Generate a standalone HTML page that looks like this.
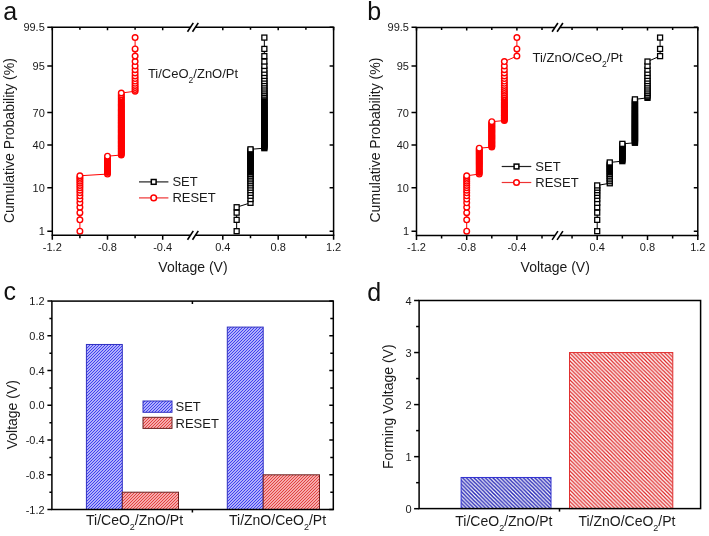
<!DOCTYPE html><html><head><meta charset="utf-8"><style>html,body{margin:0;padding:0;background:#fff;overflow:hidden}svg{display:block;will-change:transform;-webkit-font-smoothing:antialiased}</style></head><body>
<svg width="709" height="536" viewBox="0 0 709 536">
<rect width="709" height="536" fill="#fff"/>
<defs>
<pattern id="hcB" patternUnits="userSpaceOnUse" width="3" height="3"><rect width="3" height="3" fill="#dedeff"/><path d="M-0.75,0.75 L0.75,-0.75 M0,3 L3,0 M2.25,3.75 L3.75,2.25" stroke="#3535ee" stroke-width="1.05"/></pattern>
<pattern id="hcR" patternUnits="userSpaceOnUse" width="3" height="3"><rect width="3" height="3" fill="#ffd8d8"/><path d="M-0.75,0.75 L0.75,-0.75 M0,3 L3,0 M2.25,3.75 L3.75,2.25" stroke="#e03a3a" stroke-width="1.1"/></pattern>
<pattern id="hdB" patternUnits="userSpaceOnUse" width="3.8" height="3.8"><rect width="3.8" height="3.8" fill="#fff"/><path d="M-1,2.8 L1,4.8 M0,0 L3.8,3.8 M2.8,-1 L4.8,1" stroke="#2424b4" stroke-width="1.5"/></pattern>
<pattern id="hdR" patternUnits="userSpaceOnUse" width="3.8" height="3.8"><rect width="3.8" height="3.8" fill="#fff"/><path d="M-1,2.8 L1,4.8 M0,0 L3.8,3.8 M2.8,-1 L4.8,1" stroke="#dd2424" stroke-width="1.2"/></pattern>
</defs>
<path d="M79.9,231.18 L79.9,219.84 L79.9,212.64 L79.9,207.23 L79.9,202.82 L79.9,199.07 L79.9,195.79 L79.9,192.85 L79.9,190.17 L79.9,187.71 L79.9,185.42 L79.9,183.27 L79.9,181.25 L79.9,179.33 L79.9,177.51 L79.9,175.76 L107.5,174.08 L107.5,172.47 L107.5,170.91 L107.5,169.4 L107.5,167.94 L107.5,166.51 L107.5,165.12 L107.5,163.77 L107.5,162.45 L107.5,161.15 L107.5,159.88 L107.5,158.63 L107.5,157.41 L107.5,156.2 L121.3,155.01 L121.3,153.84 L121.3,152.68 L121.3,151.54 L121.3,150.41 L121.3,149.3 L121.3,148.19 L121.3,147.09 L121.3,146 L121.3,144.92 L121.3,143.85 L121.3,142.78 L121.3,141.72 L121.3,140.66 L121.3,139.61 L121.3,138.56 L121.3,137.51 L121.3,136.47 L121.3,135.42 L121.3,134.38 L121.3,133.34 L121.3,132.29 L121.3,131.25 L121.3,130.2 L121.3,129.15 L121.3,128.1 L121.3,127.04 L121.3,125.98 L121.3,124.91 L121.3,123.84 L121.3,122.76 L121.3,121.67 L121.3,120.57 L121.3,119.46 L121.3,118.35 L121.3,117.22 L121.3,116.08 L121.3,114.92 L121.3,113.75 L121.3,112.56 L121.3,111.35 L121.3,110.13 L121.3,108.88 L121.3,107.61 L121.3,106.31 L121.3,104.99 L121.3,103.64 L121.3,102.25 L121.3,100.82 L121.3,99.36 L121.3,97.85 L121.3,96.29 L121.3,94.68 L121.3,93 L135.1,91.25 L135.1,89.43 L135.1,87.51 L135.1,85.49 L135.1,83.34 L135.1,81.05 L135.1,78.59 L135.1,75.91 L135.1,72.97 L135.1,69.69 L135.1,65.94 L135.1,61.53 L135.1,56.12 L135.1,48.92 L135.1,37.58" fill="none" stroke="#ff0000" stroke-width="1"/>
<circle cx="79.9" cy="231.18" r="2.8" fill="#fff" stroke="#ff0000" stroke-width="1.4"/>
<circle cx="79.9" cy="219.84" r="2.8" fill="#fff" stroke="#ff0000" stroke-width="1.4"/>
<circle cx="79.9" cy="212.64" r="2.8" fill="#fff" stroke="#ff0000" stroke-width="1.4"/>
<circle cx="79.9" cy="207.23" r="2.8" fill="#fff" stroke="#ff0000" stroke-width="1.4"/>
<circle cx="79.9" cy="202.82" r="2.8" fill="#fff" stroke="#ff0000" stroke-width="1.4"/>
<circle cx="79.9" cy="199.07" r="2.8" fill="#fff" stroke="#ff0000" stroke-width="1.4"/>
<circle cx="79.9" cy="195.79" r="2.8" fill="#fff" stroke="#ff0000" stroke-width="1.4"/>
<circle cx="79.9" cy="192.85" r="2.8" fill="#fff" stroke="#ff0000" stroke-width="1.4"/>
<circle cx="79.9" cy="190.17" r="2.8" fill="#fff" stroke="#ff0000" stroke-width="1.4"/>
<circle cx="79.9" cy="187.71" r="2.8" fill="#fff" stroke="#ff0000" stroke-width="1.4"/>
<circle cx="79.9" cy="185.42" r="2.8" fill="#fff" stroke="#ff0000" stroke-width="1.4"/>
<circle cx="79.9" cy="183.27" r="2.8" fill="#fff" stroke="#ff0000" stroke-width="1.4"/>
<circle cx="79.9" cy="181.25" r="2.8" fill="#fff" stroke="#ff0000" stroke-width="1.4"/>
<circle cx="79.9" cy="179.33" r="2.8" fill="#fff" stroke="#ff0000" stroke-width="1.4"/>
<circle cx="79.9" cy="177.51" r="2.8" fill="#fff" stroke="#ff0000" stroke-width="1.4"/>
<circle cx="79.9" cy="175.76" r="2.8" fill="#fff" stroke="#ff0000" stroke-width="1.4"/>
<circle cx="107.5" cy="174.08" r="2.8" fill="#fff" stroke="#ff0000" stroke-width="1.4"/>
<circle cx="107.5" cy="172.47" r="2.8" fill="#ff0000" stroke="#ff0000" stroke-width="1.4"/>
<circle cx="107.5" cy="170.91" r="2.8" fill="#ff0000" stroke="#ff0000" stroke-width="1.4"/>
<circle cx="107.5" cy="169.4" r="2.8" fill="#ff0000" stroke="#ff0000" stroke-width="1.4"/>
<circle cx="107.5" cy="167.94" r="2.8" fill="#ff0000" stroke="#ff0000" stroke-width="1.4"/>
<circle cx="107.5" cy="166.51" r="2.8" fill="#ff0000" stroke="#ff0000" stroke-width="1.4"/>
<circle cx="107.5" cy="165.12" r="2.8" fill="#ff0000" stroke="#ff0000" stroke-width="1.4"/>
<circle cx="107.5" cy="163.77" r="2.8" fill="#ff0000" stroke="#ff0000" stroke-width="1.4"/>
<circle cx="107.5" cy="162.45" r="2.8" fill="#ff0000" stroke="#ff0000" stroke-width="1.4"/>
<circle cx="107.5" cy="161.15" r="2.8" fill="#ff0000" stroke="#ff0000" stroke-width="1.4"/>
<circle cx="107.5" cy="159.88" r="2.8" fill="#ff0000" stroke="#ff0000" stroke-width="1.4"/>
<circle cx="107.5" cy="158.63" r="2.8" fill="#ff0000" stroke="#ff0000" stroke-width="1.4"/>
<circle cx="107.5" cy="157.41" r="2.8" fill="#ff0000" stroke="#ff0000" stroke-width="1.4"/>
<circle cx="107.5" cy="156.2" r="2.8" fill="#fff" stroke="#ff0000" stroke-width="1.4"/>
<circle cx="121.3" cy="155.01" r="2.8" fill="#ff0000" stroke="#ff0000" stroke-width="1.4"/>
<circle cx="121.3" cy="153.84" r="2.8" fill="#ff0000" stroke="#ff0000" stroke-width="1.4"/>
<circle cx="121.3" cy="152.68" r="2.8" fill="#ff0000" stroke="#ff0000" stroke-width="1.4"/>
<circle cx="121.3" cy="151.54" r="2.8" fill="#ff0000" stroke="#ff0000" stroke-width="1.4"/>
<circle cx="121.3" cy="150.41" r="2.8" fill="#ff0000" stroke="#ff0000" stroke-width="1.4"/>
<circle cx="121.3" cy="149.3" r="2.8" fill="#ff0000" stroke="#ff0000" stroke-width="1.4"/>
<circle cx="121.3" cy="148.19" r="2.8" fill="#ff0000" stroke="#ff0000" stroke-width="1.4"/>
<circle cx="121.3" cy="147.09" r="2.8" fill="#ff0000" stroke="#ff0000" stroke-width="1.4"/>
<circle cx="121.3" cy="146" r="2.8" fill="#ff0000" stroke="#ff0000" stroke-width="1.4"/>
<circle cx="121.3" cy="144.92" r="2.8" fill="#ff0000" stroke="#ff0000" stroke-width="1.4"/>
<circle cx="121.3" cy="143.85" r="2.8" fill="#ff0000" stroke="#ff0000" stroke-width="1.4"/>
<circle cx="121.3" cy="142.78" r="2.8" fill="#ff0000" stroke="#ff0000" stroke-width="1.4"/>
<circle cx="121.3" cy="141.72" r="2.8" fill="#ff0000" stroke="#ff0000" stroke-width="1.4"/>
<circle cx="121.3" cy="140.66" r="2.8" fill="#ff0000" stroke="#ff0000" stroke-width="1.4"/>
<circle cx="121.3" cy="139.61" r="2.8" fill="#ff0000" stroke="#ff0000" stroke-width="1.4"/>
<circle cx="121.3" cy="138.56" r="2.8" fill="#ff0000" stroke="#ff0000" stroke-width="1.4"/>
<circle cx="121.3" cy="137.51" r="2.8" fill="#ff0000" stroke="#ff0000" stroke-width="1.4"/>
<circle cx="121.3" cy="136.47" r="2.8" fill="#ff0000" stroke="#ff0000" stroke-width="1.4"/>
<circle cx="121.3" cy="135.42" r="2.8" fill="#ff0000" stroke="#ff0000" stroke-width="1.4"/>
<circle cx="121.3" cy="134.38" r="2.8" fill="#ff0000" stroke="#ff0000" stroke-width="1.4"/>
<circle cx="121.3" cy="133.34" r="2.8" fill="#ff0000" stroke="#ff0000" stroke-width="1.4"/>
<circle cx="121.3" cy="132.29" r="2.8" fill="#ff0000" stroke="#ff0000" stroke-width="1.4"/>
<circle cx="121.3" cy="131.25" r="2.8" fill="#ff0000" stroke="#ff0000" stroke-width="1.4"/>
<circle cx="121.3" cy="130.2" r="2.8" fill="#ff0000" stroke="#ff0000" stroke-width="1.4"/>
<circle cx="121.3" cy="129.15" r="2.8" fill="#ff0000" stroke="#ff0000" stroke-width="1.4"/>
<circle cx="121.3" cy="128.1" r="2.8" fill="#ff0000" stroke="#ff0000" stroke-width="1.4"/>
<circle cx="121.3" cy="127.04" r="2.8" fill="#ff0000" stroke="#ff0000" stroke-width="1.4"/>
<circle cx="121.3" cy="125.98" r="2.8" fill="#ff0000" stroke="#ff0000" stroke-width="1.4"/>
<circle cx="121.3" cy="124.91" r="2.8" fill="#ff0000" stroke="#ff0000" stroke-width="1.4"/>
<circle cx="121.3" cy="123.84" r="2.8" fill="#ff0000" stroke="#ff0000" stroke-width="1.4"/>
<circle cx="121.3" cy="122.76" r="2.8" fill="#ff0000" stroke="#ff0000" stroke-width="1.4"/>
<circle cx="121.3" cy="121.67" r="2.8" fill="#ff0000" stroke="#ff0000" stroke-width="1.4"/>
<circle cx="121.3" cy="120.57" r="2.8" fill="#ff0000" stroke="#ff0000" stroke-width="1.4"/>
<circle cx="121.3" cy="119.46" r="2.8" fill="#ff0000" stroke="#ff0000" stroke-width="1.4"/>
<circle cx="121.3" cy="118.35" r="2.8" fill="#ff0000" stroke="#ff0000" stroke-width="1.4"/>
<circle cx="121.3" cy="117.22" r="2.8" fill="#ff0000" stroke="#ff0000" stroke-width="1.4"/>
<circle cx="121.3" cy="116.08" r="2.8" fill="#ff0000" stroke="#ff0000" stroke-width="1.4"/>
<circle cx="121.3" cy="114.92" r="2.8" fill="#ff0000" stroke="#ff0000" stroke-width="1.4"/>
<circle cx="121.3" cy="113.75" r="2.8" fill="#ff0000" stroke="#ff0000" stroke-width="1.4"/>
<circle cx="121.3" cy="112.56" r="2.8" fill="#ff0000" stroke="#ff0000" stroke-width="1.4"/>
<circle cx="121.3" cy="111.35" r="2.8" fill="#ff0000" stroke="#ff0000" stroke-width="1.4"/>
<circle cx="121.3" cy="110.13" r="2.8" fill="#ff0000" stroke="#ff0000" stroke-width="1.4"/>
<circle cx="121.3" cy="108.88" r="2.8" fill="#ff0000" stroke="#ff0000" stroke-width="1.4"/>
<circle cx="121.3" cy="107.61" r="2.8" fill="#ff0000" stroke="#ff0000" stroke-width="1.4"/>
<circle cx="121.3" cy="106.31" r="2.8" fill="#ff0000" stroke="#ff0000" stroke-width="1.4"/>
<circle cx="121.3" cy="104.99" r="2.8" fill="#ff0000" stroke="#ff0000" stroke-width="1.4"/>
<circle cx="121.3" cy="103.64" r="2.8" fill="#ff0000" stroke="#ff0000" stroke-width="1.4"/>
<circle cx="121.3" cy="102.25" r="2.8" fill="#ff0000" stroke="#ff0000" stroke-width="1.4"/>
<circle cx="121.3" cy="100.82" r="2.8" fill="#ff0000" stroke="#ff0000" stroke-width="1.4"/>
<circle cx="121.3" cy="99.36" r="2.8" fill="#ff0000" stroke="#ff0000" stroke-width="1.4"/>
<circle cx="121.3" cy="97.85" r="2.8" fill="#ff0000" stroke="#ff0000" stroke-width="1.4"/>
<circle cx="121.3" cy="96.29" r="2.8" fill="#fff" stroke="#ff0000" stroke-width="1.4"/>
<circle cx="121.3" cy="94.68" r="2.8" fill="#fff" stroke="#ff0000" stroke-width="1.4"/>
<circle cx="121.3" cy="93" r="2.8" fill="#fff" stroke="#ff0000" stroke-width="1.4"/>
<circle cx="135.1" cy="91.25" r="2.8" fill="#fff" stroke="#ff0000" stroke-width="1.4"/>
<circle cx="135.1" cy="89.43" r="2.8" fill="#fff" stroke="#ff0000" stroke-width="1.4"/>
<circle cx="135.1" cy="87.51" r="2.8" fill="#fff" stroke="#ff0000" stroke-width="1.4"/>
<circle cx="135.1" cy="85.49" r="2.8" fill="#fff" stroke="#ff0000" stroke-width="1.4"/>
<circle cx="135.1" cy="83.34" r="2.8" fill="#fff" stroke="#ff0000" stroke-width="1.4"/>
<circle cx="135.1" cy="81.05" r="2.8" fill="#fff" stroke="#ff0000" stroke-width="1.4"/>
<circle cx="135.1" cy="78.59" r="2.8" fill="#fff" stroke="#ff0000" stroke-width="1.4"/>
<circle cx="135.1" cy="75.91" r="2.8" fill="#fff" stroke="#ff0000" stroke-width="1.4"/>
<circle cx="135.1" cy="72.97" r="2.8" fill="#fff" stroke="#ff0000" stroke-width="1.4"/>
<circle cx="135.1" cy="69.69" r="2.8" fill="#fff" stroke="#ff0000" stroke-width="1.4"/>
<circle cx="135.1" cy="65.94" r="2.8" fill="#fff" stroke="#ff0000" stroke-width="1.4"/>
<circle cx="135.1" cy="61.53" r="2.8" fill="#fff" stroke="#ff0000" stroke-width="1.4"/>
<circle cx="135.1" cy="56.12" r="2.8" fill="#fff" stroke="#ff0000" stroke-width="1.4"/>
<circle cx="135.1" cy="48.92" r="2.8" fill="#fff" stroke="#ff0000" stroke-width="1.4"/>
<circle cx="135.1" cy="37.58" r="2.8" fill="#fff" stroke="#ff0000" stroke-width="1.4"/>
<path d="M236.65,231.18 L236.65,219.84 L236.65,212.64 L236.65,207.23 L250.5,202.82 L250.5,199.07 L250.5,195.79 L250.5,192.85 L250.5,190.17 L250.5,187.71 L250.5,185.42 L250.5,183.27 L250.5,181.25 L250.5,179.33 L250.5,177.51 L250.5,175.76 L250.5,174.08 L250.5,172.47 L250.5,170.91 L250.5,169.4 L250.5,167.94 L250.5,166.51 L250.5,165.12 L250.5,163.77 L250.5,162.45 L250.5,161.15 L250.5,159.88 L250.5,158.63 L250.5,157.41 L250.5,156.2 L250.5,155.01 L250.5,153.84 L250.5,152.68 L250.5,151.54 L250.5,150.41 L250.5,149.3 L264.35,148.19 L264.35,147.09 L264.35,146 L264.35,144.92 L264.35,143.85 L264.35,142.78 L264.35,141.72 L264.35,140.66 L264.35,139.61 L264.35,138.56 L264.35,137.51 L264.35,136.47 L264.35,135.42 L264.35,134.38 L264.35,133.34 L264.35,132.29 L264.35,131.25 L264.35,130.2 L264.35,129.15 L264.35,128.1 L264.35,127.04 L264.35,125.98 L264.35,124.91 L264.35,123.84 L264.35,122.76 L264.35,121.67 L264.35,120.57 L264.35,119.46 L264.35,118.35 L264.35,117.22 L264.35,116.08 L264.35,114.92 L264.35,113.75 L264.35,112.56 L264.35,111.35 L264.35,110.13 L264.35,108.88 L264.35,107.61 L264.35,106.31 L264.35,104.99 L264.35,103.64 L264.35,102.25 L264.35,100.82 L264.35,99.36 L264.35,97.85 L264.35,96.29 L264.35,94.68 L264.35,93 L264.35,91.25 L264.35,89.43 L264.35,87.51 L264.35,85.49 L264.35,83.34 L264.35,81.05 L264.35,78.59 L264.35,75.91 L264.35,72.97 L264.35,69.69 L264.35,65.94 L264.35,61.53 L264.35,56.12 L264.35,48.92 L264.35,37.58" fill="none" stroke="#000000" stroke-width="1"/>
<rect x="234.15" y="228.68" width="5" height="5" fill="#fff" stroke="#000000" stroke-width="1.3"/>
<rect x="234.15" y="217.34" width="5" height="5" fill="#fff" stroke="#000000" stroke-width="1.3"/>
<rect x="234.15" y="210.14" width="5" height="5" fill="#fff" stroke="#000000" stroke-width="1.3"/>
<rect x="234.15" y="204.73" width="5" height="5" fill="#fff" stroke="#000000" stroke-width="1.3"/>
<rect x="248" y="200.32" width="5" height="5" fill="#fff" stroke="#000000" stroke-width="1.3"/>
<rect x="248" y="196.57" width="5" height="5" fill="#fff" stroke="#000000" stroke-width="1.3"/>
<rect x="248" y="193.29" width="5" height="5" fill="#fff" stroke="#000000" stroke-width="1.3"/>
<rect x="248" y="190.35" width="5" height="5" fill="#fff" stroke="#000000" stroke-width="1.3"/>
<rect x="248" y="187.67" width="5" height="5" fill="#fff" stroke="#000000" stroke-width="1.3"/>
<rect x="248" y="185.21" width="5" height="5" fill="#fff" stroke="#000000" stroke-width="1.3"/>
<rect x="248" y="182.92" width="5" height="5" fill="#fff" stroke="#000000" stroke-width="1.3"/>
<rect x="248" y="180.77" width="5" height="5" fill="#fff" stroke="#000000" stroke-width="1.3"/>
<rect x="248" y="178.75" width="5" height="5" fill="#fff" stroke="#000000" stroke-width="1.3"/>
<rect x="248" y="176.83" width="5" height="5" fill="#fff" stroke="#000000" stroke-width="1.3"/>
<rect x="248" y="175.01" width="5" height="5" fill="#fff" stroke="#000000" stroke-width="1.3"/>
<rect x="248" y="173.26" width="5" height="5" fill="#fff" stroke="#000000" stroke-width="1.3"/>
<rect x="248" y="171.58" width="5" height="5" fill="#fff" stroke="#000000" stroke-width="1.3"/>
<rect x="248" y="169.97" width="5" height="5" fill="#000000" stroke="#000000" stroke-width="1.3"/>
<rect x="248" y="168.41" width="5" height="5" fill="#000000" stroke="#000000" stroke-width="1.3"/>
<rect x="248" y="166.9" width="5" height="5" fill="#000000" stroke="#000000" stroke-width="1.3"/>
<rect x="248" y="165.44" width="5" height="5" fill="#000000" stroke="#000000" stroke-width="1.3"/>
<rect x="248" y="164.01" width="5" height="5" fill="#000000" stroke="#000000" stroke-width="1.3"/>
<rect x="248" y="162.62" width="5" height="5" fill="#000000" stroke="#000000" stroke-width="1.3"/>
<rect x="248" y="161.27" width="5" height="5" fill="#000000" stroke="#000000" stroke-width="1.3"/>
<rect x="248" y="159.95" width="5" height="5" fill="#000000" stroke="#000000" stroke-width="1.3"/>
<rect x="248" y="158.65" width="5" height="5" fill="#000000" stroke="#000000" stroke-width="1.3"/>
<rect x="248" y="157.38" width="5" height="5" fill="#000000" stroke="#000000" stroke-width="1.3"/>
<rect x="248" y="156.13" width="5" height="5" fill="#000000" stroke="#000000" stroke-width="1.3"/>
<rect x="248" y="154.91" width="5" height="5" fill="#000000" stroke="#000000" stroke-width="1.3"/>
<rect x="248" y="153.7" width="5" height="5" fill="#000000" stroke="#000000" stroke-width="1.3"/>
<rect x="248" y="152.51" width="5" height="5" fill="#000000" stroke="#000000" stroke-width="1.3"/>
<rect x="248" y="151.34" width="5" height="5" fill="#000000" stroke="#000000" stroke-width="1.3"/>
<rect x="248" y="150.18" width="5" height="5" fill="#000000" stroke="#000000" stroke-width="1.3"/>
<rect x="248" y="149.04" width="5" height="5" fill="#000000" stroke="#000000" stroke-width="1.3"/>
<rect x="248" y="147.91" width="5" height="5" fill="#000000" stroke="#000000" stroke-width="1.3"/>
<rect x="248" y="146.8" width="5" height="5" fill="#fff" stroke="#000000" stroke-width="1.3"/>
<rect x="261.85" y="145.69" width="5" height="5" fill="#000000" stroke="#000000" stroke-width="1.3"/>
<rect x="261.85" y="144.59" width="5" height="5" fill="#000000" stroke="#000000" stroke-width="1.3"/>
<rect x="261.85" y="143.5" width="5" height="5" fill="#000000" stroke="#000000" stroke-width="1.3"/>
<rect x="261.85" y="142.42" width="5" height="5" fill="#000000" stroke="#000000" stroke-width="1.3"/>
<rect x="261.85" y="141.35" width="5" height="5" fill="#000000" stroke="#000000" stroke-width="1.3"/>
<rect x="261.85" y="140.28" width="5" height="5" fill="#000000" stroke="#000000" stroke-width="1.3"/>
<rect x="261.85" y="139.22" width="5" height="5" fill="#000000" stroke="#000000" stroke-width="1.3"/>
<rect x="261.85" y="138.16" width="5" height="5" fill="#000000" stroke="#000000" stroke-width="1.3"/>
<rect x="261.85" y="137.11" width="5" height="5" fill="#000000" stroke="#000000" stroke-width="1.3"/>
<rect x="261.85" y="136.06" width="5" height="5" fill="#000000" stroke="#000000" stroke-width="1.3"/>
<rect x="261.85" y="135.01" width="5" height="5" fill="#000000" stroke="#000000" stroke-width="1.3"/>
<rect x="261.85" y="133.97" width="5" height="5" fill="#000000" stroke="#000000" stroke-width="1.3"/>
<rect x="261.85" y="132.92" width="5" height="5" fill="#000000" stroke="#000000" stroke-width="1.3"/>
<rect x="261.85" y="131.88" width="5" height="5" fill="#000000" stroke="#000000" stroke-width="1.3"/>
<rect x="261.85" y="130.84" width="5" height="5" fill="#000000" stroke="#000000" stroke-width="1.3"/>
<rect x="261.85" y="129.79" width="5" height="5" fill="#000000" stroke="#000000" stroke-width="1.3"/>
<rect x="261.85" y="128.75" width="5" height="5" fill="#000000" stroke="#000000" stroke-width="1.3"/>
<rect x="261.85" y="127.7" width="5" height="5" fill="#000000" stroke="#000000" stroke-width="1.3"/>
<rect x="261.85" y="126.65" width="5" height="5" fill="#000000" stroke="#000000" stroke-width="1.3"/>
<rect x="261.85" y="125.6" width="5" height="5" fill="#000000" stroke="#000000" stroke-width="1.3"/>
<rect x="261.85" y="124.54" width="5" height="5" fill="#000000" stroke="#000000" stroke-width="1.3"/>
<rect x="261.85" y="123.48" width="5" height="5" fill="#000000" stroke="#000000" stroke-width="1.3"/>
<rect x="261.85" y="122.41" width="5" height="5" fill="#000000" stroke="#000000" stroke-width="1.3"/>
<rect x="261.85" y="121.34" width="5" height="5" fill="#000000" stroke="#000000" stroke-width="1.3"/>
<rect x="261.85" y="120.26" width="5" height="5" fill="#000000" stroke="#000000" stroke-width="1.3"/>
<rect x="261.85" y="119.17" width="5" height="5" fill="#000000" stroke="#000000" stroke-width="1.3"/>
<rect x="261.85" y="118.07" width="5" height="5" fill="#000000" stroke="#000000" stroke-width="1.3"/>
<rect x="261.85" y="116.96" width="5" height="5" fill="#000000" stroke="#000000" stroke-width="1.3"/>
<rect x="261.85" y="115.85" width="5" height="5" fill="#000000" stroke="#000000" stroke-width="1.3"/>
<rect x="261.85" y="114.72" width="5" height="5" fill="#000000" stroke="#000000" stroke-width="1.3"/>
<rect x="261.85" y="113.58" width="5" height="5" fill="#000000" stroke="#000000" stroke-width="1.3"/>
<rect x="261.85" y="112.42" width="5" height="5" fill="#000000" stroke="#000000" stroke-width="1.3"/>
<rect x="261.85" y="111.25" width="5" height="5" fill="#000000" stroke="#000000" stroke-width="1.3"/>
<rect x="261.85" y="110.06" width="5" height="5" fill="#000000" stroke="#000000" stroke-width="1.3"/>
<rect x="261.85" y="108.85" width="5" height="5" fill="#000000" stroke="#000000" stroke-width="1.3"/>
<rect x="261.85" y="107.63" width="5" height="5" fill="#000000" stroke="#000000" stroke-width="1.3"/>
<rect x="261.85" y="106.38" width="5" height="5" fill="#000000" stroke="#000000" stroke-width="1.3"/>
<rect x="261.85" y="105.11" width="5" height="5" fill="#000000" stroke="#000000" stroke-width="1.3"/>
<rect x="261.85" y="103.81" width="5" height="5" fill="#000000" stroke="#000000" stroke-width="1.3"/>
<rect x="261.85" y="102.49" width="5" height="5" fill="#000000" stroke="#000000" stroke-width="1.3"/>
<rect x="261.85" y="101.14" width="5" height="5" fill="#000000" stroke="#000000" stroke-width="1.3"/>
<rect x="261.85" y="99.75" width="5" height="5" fill="#000000" stroke="#000000" stroke-width="1.3"/>
<rect x="261.85" y="98.32" width="5" height="5" fill="#000000" stroke="#000000" stroke-width="1.3"/>
<rect x="261.85" y="96.86" width="5" height="5" fill="#000000" stroke="#000000" stroke-width="1.3"/>
<rect x="261.85" y="95.35" width="5" height="5" fill="#000000" stroke="#000000" stroke-width="1.3"/>
<rect x="261.85" y="93.79" width="5" height="5" fill="#fff" stroke="#000000" stroke-width="1.3"/>
<rect x="261.85" y="92.18" width="5" height="5" fill="#fff" stroke="#000000" stroke-width="1.3"/>
<rect x="261.85" y="90.5" width="5" height="5" fill="#fff" stroke="#000000" stroke-width="1.3"/>
<rect x="261.85" y="88.75" width="5" height="5" fill="#fff" stroke="#000000" stroke-width="1.3"/>
<rect x="261.85" y="86.93" width="5" height="5" fill="#fff" stroke="#000000" stroke-width="1.3"/>
<rect x="261.85" y="85.01" width="5" height="5" fill="#fff" stroke="#000000" stroke-width="1.3"/>
<rect x="261.85" y="82.99" width="5" height="5" fill="#fff" stroke="#000000" stroke-width="1.3"/>
<rect x="261.85" y="80.84" width="5" height="5" fill="#fff" stroke="#000000" stroke-width="1.3"/>
<rect x="261.85" y="78.55" width="5" height="5" fill="#fff" stroke="#000000" stroke-width="1.3"/>
<rect x="261.85" y="76.09" width="5" height="5" fill="#fff" stroke="#000000" stroke-width="1.3"/>
<rect x="261.85" y="73.41" width="5" height="5" fill="#fff" stroke="#000000" stroke-width="1.3"/>
<rect x="261.85" y="70.47" width="5" height="5" fill="#fff" stroke="#000000" stroke-width="1.3"/>
<rect x="261.85" y="67.19" width="5" height="5" fill="#fff" stroke="#000000" stroke-width="1.3"/>
<rect x="261.85" y="63.44" width="5" height="5" fill="#fff" stroke="#000000" stroke-width="1.3"/>
<rect x="261.85" y="59.03" width="5" height="5" fill="#fff" stroke="#000000" stroke-width="1.3"/>
<rect x="261.85" y="53.62" width="5" height="5" fill="#fff" stroke="#000000" stroke-width="1.3"/>
<rect x="261.85" y="46.42" width="5" height="5" fill="#fff" stroke="#000000" stroke-width="1.3"/>
<rect x="261.85" y="35.08" width="5" height="5" fill="#fff" stroke="#000000" stroke-width="1.3"/>
<g stroke="#000" stroke-width="1.5" fill="none">
<path d="M51.55,27.3 H190.4 M195.4,27.3 H334.35"/>
<path d="M51.55,235.3 H190.4 M195.4,235.3 H334.35"/>
<path d="M52.3,27.3 V235.3 M333.6,27.3 V235.3"/>
<path d="M187.5,31.7 L193.3,22.9" stroke-width="1.6"/>
<path d="M192.5,31.7 L198.3,22.9" stroke-width="1.6"/>
<path d="M187.5,239.7 L193.3,230.9" stroke-width="1.6"/>
<path d="M192.5,239.7 L198.3,230.9" stroke-width="1.6"/>
<path d="M47.3,231.18 H52.3 M329.6,231.18 H333.6"/>
<path d="M47.3,187.71 H52.3 M329.6,187.71 H333.6"/>
<path d="M47.3,144.92 H52.3 M329.6,144.92 H333.6"/>
<path d="M47.3,112.56 H52.3 M329.6,112.56 H333.6"/>
<path d="M47.3,65.94 H52.3 M329.6,65.94 H333.6"/>
<path d="M47.3,27.2 H52.3 M329.6,27.2 H333.6"/>
<path d="M52.3,235.3 V239.8 M52.3,27.3 V30.3"/>
<path d="M107.5,235.3 V239.8 M107.5,27.3 V30.3"/>
<path d="M162.7,235.3 V239.8 M162.7,27.3 V30.3"/>
<path d="M222.8,235.3 V239.8 M222.8,27.3 V30.3"/>
<path d="M278.2,235.3 V239.8 M278.2,27.3 V30.3"/>
<path d="M333.6,235.3 V239.8 M333.6,27.3 V30.3"/>
<path d="M79.9,235.3 V238.3 M79.9,27.3 V29.8"/>
<path d="M135.1,235.3 V238.3 M135.1,27.3 V29.8"/>
<path d="M250.5,235.3 V238.3 M250.5,27.3 V29.8"/>
<path d="M305.9,235.3 V238.3 M305.9,27.3 V29.8"/>
</g>
<g font-family='"Liberation Sans", sans-serif' font-size="11" fill="#1a1a1a">
<text x="44.8" y="235.18" text-anchor="end">1</text>
<text x="44.8" y="191.71" text-anchor="end">10</text>
<text x="44.8" y="148.92" text-anchor="end">40</text>
<text x="44.8" y="116.56" text-anchor="end">70</text>
<text x="44.8" y="69.94" text-anchor="end">95</text>
<text x="44.8" y="31.2" text-anchor="end">99.5</text>
<text x="52.3" y="251.1" text-anchor="middle">-1.2</text>
<text x="107.5" y="251.1" text-anchor="middle">-0.8</text>
<text x="162.7" y="251.1" text-anchor="middle">-0.4</text>
<text x="222.8" y="251.1" text-anchor="middle">0.4</text>
<text x="278.2" y="251.1" text-anchor="middle">0.8</text>
<text x="333.6" y="251.1" text-anchor="middle">1.2</text>
</g>
<g font-family='"Liberation Sans", sans-serif' font-size="14" fill="#1a1a1a">
<text x="193" y="271.5" text-anchor="middle">Voltage (V)</text>
<text transform="translate(14.3,140.65) rotate(-90)" text-anchor="middle">Cumulative Probability (%)</text>
</g>
<text x="3.2" y="19.8" font-family='"Liberation Sans", sans-serif' font-size="25" fill="#111">a</text>
<path d="M139,181.9 H168.4" stroke="#222" stroke-width="1.2"/>
<path d="M139,197.9 H168.4" stroke="#e33" stroke-width="1.2"/>
<rect x="151.3" y="179.5" width="4.8" height="4.8" fill="#fff" stroke="#000" stroke-width="1.5"/>
<circle cx="153.7" cy="197.9" r="2.8" fill="#fff" stroke="#f00" stroke-width="1.5"/>
<g font-family='"Liberation Sans", sans-serif' font-size="13" fill="#1a1a1a">
<text x="172.4" y="186.1">SET</text>
<text x="172.4" y="202.1">RESET</text>
<text x="147.9" y="77.5">Ti/CeO<tspan font-size="8.5" dy="5">2</tspan><tspan dy="-5">/ZnO/Pt</tspan></text>
</g>
<path d="M466.7,231.18 L466.7,219.84 L466.7,212.64 L466.7,207.23 L466.7,202.82 L466.7,199.07 L466.7,195.79 L466.7,192.85 L466.7,190.17 L466.7,187.71 L466.7,185.42 L466.7,183.27 L466.7,181.25 L466.7,179.33 L466.7,177.51 L466.7,175.76 L479.25,174.08 L479.25,172.47 L479.25,170.91 L479.25,169.4 L479.25,167.94 L479.25,166.51 L479.25,165.12 L479.25,163.77 L479.25,162.45 L479.25,161.15 L479.25,159.88 L479.25,158.63 L479.25,157.41 L479.25,156.2 L479.25,155.01 L479.25,153.84 L479.25,152.68 L479.25,151.54 L479.25,150.41 L479.25,149.3 L479.25,148.19 L491.8,147.09 L491.8,146 L491.8,144.92 L491.8,143.85 L491.8,142.78 L491.8,141.72 L491.8,140.66 L491.8,139.61 L491.8,138.56 L491.8,137.51 L491.8,136.47 L491.8,135.42 L491.8,134.38 L491.8,133.34 L491.8,132.29 L491.8,131.25 L491.8,130.2 L491.8,129.15 L491.8,128.1 L491.8,127.04 L491.8,125.98 L491.8,124.91 L491.8,123.84 L491.8,122.76 L491.8,121.67 L504.35,120.57 L504.35,119.46 L504.35,118.35 L504.35,117.22 L504.35,116.08 L504.35,114.92 L504.35,113.75 L504.35,112.56 L504.35,111.35 L504.35,110.13 L504.35,108.88 L504.35,107.61 L504.35,106.31 L504.35,104.99 L504.35,103.64 L504.35,102.25 L504.35,100.82 L504.35,99.36 L504.35,97.85 L504.35,96.29 L504.35,94.68 L504.35,93 L504.35,91.25 L504.35,89.43 L504.35,87.51 L504.35,85.49 L504.35,83.34 L504.35,81.05 L504.35,78.59 L504.35,75.91 L504.35,72.97 L504.35,69.69 L504.35,65.94 L504.35,61.53 L516.9,56.12 L516.9,48.92 L516.9,37.58" fill="none" stroke="#ff0000" stroke-width="1"/>
<circle cx="466.7" cy="231.18" r="2.8" fill="#fff" stroke="#ff0000" stroke-width="1.4"/>
<circle cx="466.7" cy="219.84" r="2.8" fill="#fff" stroke="#ff0000" stroke-width="1.4"/>
<circle cx="466.7" cy="212.64" r="2.8" fill="#fff" stroke="#ff0000" stroke-width="1.4"/>
<circle cx="466.7" cy="207.23" r="2.8" fill="#fff" stroke="#ff0000" stroke-width="1.4"/>
<circle cx="466.7" cy="202.82" r="2.8" fill="#fff" stroke="#ff0000" stroke-width="1.4"/>
<circle cx="466.7" cy="199.07" r="2.8" fill="#fff" stroke="#ff0000" stroke-width="1.4"/>
<circle cx="466.7" cy="195.79" r="2.8" fill="#fff" stroke="#ff0000" stroke-width="1.4"/>
<circle cx="466.7" cy="192.85" r="2.8" fill="#fff" stroke="#ff0000" stroke-width="1.4"/>
<circle cx="466.7" cy="190.17" r="2.8" fill="#fff" stroke="#ff0000" stroke-width="1.4"/>
<circle cx="466.7" cy="187.71" r="2.8" fill="#fff" stroke="#ff0000" stroke-width="1.4"/>
<circle cx="466.7" cy="185.42" r="2.8" fill="#fff" stroke="#ff0000" stroke-width="1.4"/>
<circle cx="466.7" cy="183.27" r="2.8" fill="#fff" stroke="#ff0000" stroke-width="1.4"/>
<circle cx="466.7" cy="181.25" r="2.8" fill="#fff" stroke="#ff0000" stroke-width="1.4"/>
<circle cx="466.7" cy="179.33" r="2.8" fill="#fff" stroke="#ff0000" stroke-width="1.4"/>
<circle cx="466.7" cy="177.51" r="2.8" fill="#fff" stroke="#ff0000" stroke-width="1.4"/>
<circle cx="466.7" cy="175.76" r="2.8" fill="#fff" stroke="#ff0000" stroke-width="1.4"/>
<circle cx="479.25" cy="174.08" r="2.8" fill="#fff" stroke="#ff0000" stroke-width="1.4"/>
<circle cx="479.25" cy="172.47" r="2.8" fill="#ff0000" stroke="#ff0000" stroke-width="1.4"/>
<circle cx="479.25" cy="170.91" r="2.8" fill="#ff0000" stroke="#ff0000" stroke-width="1.4"/>
<circle cx="479.25" cy="169.4" r="2.8" fill="#ff0000" stroke="#ff0000" stroke-width="1.4"/>
<circle cx="479.25" cy="167.94" r="2.8" fill="#ff0000" stroke="#ff0000" stroke-width="1.4"/>
<circle cx="479.25" cy="166.51" r="2.8" fill="#ff0000" stroke="#ff0000" stroke-width="1.4"/>
<circle cx="479.25" cy="165.12" r="2.8" fill="#ff0000" stroke="#ff0000" stroke-width="1.4"/>
<circle cx="479.25" cy="163.77" r="2.8" fill="#ff0000" stroke="#ff0000" stroke-width="1.4"/>
<circle cx="479.25" cy="162.45" r="2.8" fill="#ff0000" stroke="#ff0000" stroke-width="1.4"/>
<circle cx="479.25" cy="161.15" r="2.8" fill="#ff0000" stroke="#ff0000" stroke-width="1.4"/>
<circle cx="479.25" cy="159.88" r="2.8" fill="#ff0000" stroke="#ff0000" stroke-width="1.4"/>
<circle cx="479.25" cy="158.63" r="2.8" fill="#ff0000" stroke="#ff0000" stroke-width="1.4"/>
<circle cx="479.25" cy="157.41" r="2.8" fill="#ff0000" stroke="#ff0000" stroke-width="1.4"/>
<circle cx="479.25" cy="156.2" r="2.8" fill="#ff0000" stroke="#ff0000" stroke-width="1.4"/>
<circle cx="479.25" cy="155.01" r="2.8" fill="#ff0000" stroke="#ff0000" stroke-width="1.4"/>
<circle cx="479.25" cy="153.84" r="2.8" fill="#ff0000" stroke="#ff0000" stroke-width="1.4"/>
<circle cx="479.25" cy="152.68" r="2.8" fill="#ff0000" stroke="#ff0000" stroke-width="1.4"/>
<circle cx="479.25" cy="151.54" r="2.8" fill="#ff0000" stroke="#ff0000" stroke-width="1.4"/>
<circle cx="479.25" cy="150.41" r="2.8" fill="#ff0000" stroke="#ff0000" stroke-width="1.4"/>
<circle cx="479.25" cy="149.3" r="2.8" fill="#ff0000" stroke="#ff0000" stroke-width="1.4"/>
<circle cx="479.25" cy="148.19" r="2.8" fill="#fff" stroke="#ff0000" stroke-width="1.4"/>
<circle cx="491.8" cy="147.09" r="2.8" fill="#ff0000" stroke="#ff0000" stroke-width="1.4"/>
<circle cx="491.8" cy="146" r="2.8" fill="#ff0000" stroke="#ff0000" stroke-width="1.4"/>
<circle cx="491.8" cy="144.92" r="2.8" fill="#ff0000" stroke="#ff0000" stroke-width="1.4"/>
<circle cx="491.8" cy="143.85" r="2.8" fill="#ff0000" stroke="#ff0000" stroke-width="1.4"/>
<circle cx="491.8" cy="142.78" r="2.8" fill="#ff0000" stroke="#ff0000" stroke-width="1.4"/>
<circle cx="491.8" cy="141.72" r="2.8" fill="#ff0000" stroke="#ff0000" stroke-width="1.4"/>
<circle cx="491.8" cy="140.66" r="2.8" fill="#ff0000" stroke="#ff0000" stroke-width="1.4"/>
<circle cx="491.8" cy="139.61" r="2.8" fill="#ff0000" stroke="#ff0000" stroke-width="1.4"/>
<circle cx="491.8" cy="138.56" r="2.8" fill="#ff0000" stroke="#ff0000" stroke-width="1.4"/>
<circle cx="491.8" cy="137.51" r="2.8" fill="#ff0000" stroke="#ff0000" stroke-width="1.4"/>
<circle cx="491.8" cy="136.47" r="2.8" fill="#ff0000" stroke="#ff0000" stroke-width="1.4"/>
<circle cx="491.8" cy="135.42" r="2.8" fill="#ff0000" stroke="#ff0000" stroke-width="1.4"/>
<circle cx="491.8" cy="134.38" r="2.8" fill="#ff0000" stroke="#ff0000" stroke-width="1.4"/>
<circle cx="491.8" cy="133.34" r="2.8" fill="#ff0000" stroke="#ff0000" stroke-width="1.4"/>
<circle cx="491.8" cy="132.29" r="2.8" fill="#ff0000" stroke="#ff0000" stroke-width="1.4"/>
<circle cx="491.8" cy="131.25" r="2.8" fill="#ff0000" stroke="#ff0000" stroke-width="1.4"/>
<circle cx="491.8" cy="130.2" r="2.8" fill="#ff0000" stroke="#ff0000" stroke-width="1.4"/>
<circle cx="491.8" cy="129.15" r="2.8" fill="#ff0000" stroke="#ff0000" stroke-width="1.4"/>
<circle cx="491.8" cy="128.1" r="2.8" fill="#ff0000" stroke="#ff0000" stroke-width="1.4"/>
<circle cx="491.8" cy="127.04" r="2.8" fill="#ff0000" stroke="#ff0000" stroke-width="1.4"/>
<circle cx="491.8" cy="125.98" r="2.8" fill="#ff0000" stroke="#ff0000" stroke-width="1.4"/>
<circle cx="491.8" cy="124.91" r="2.8" fill="#ff0000" stroke="#ff0000" stroke-width="1.4"/>
<circle cx="491.8" cy="123.84" r="2.8" fill="#ff0000" stroke="#ff0000" stroke-width="1.4"/>
<circle cx="491.8" cy="122.76" r="2.8" fill="#ff0000" stroke="#ff0000" stroke-width="1.4"/>
<circle cx="491.8" cy="121.67" r="2.8" fill="#fff" stroke="#ff0000" stroke-width="1.4"/>
<circle cx="504.35" cy="120.57" r="2.8" fill="#ff0000" stroke="#ff0000" stroke-width="1.4"/>
<circle cx="504.35" cy="119.46" r="2.8" fill="#ff0000" stroke="#ff0000" stroke-width="1.4"/>
<circle cx="504.35" cy="118.35" r="2.8" fill="#ff0000" stroke="#ff0000" stroke-width="1.4"/>
<circle cx="504.35" cy="117.22" r="2.8" fill="#ff0000" stroke="#ff0000" stroke-width="1.4"/>
<circle cx="504.35" cy="116.08" r="2.8" fill="#ff0000" stroke="#ff0000" stroke-width="1.4"/>
<circle cx="504.35" cy="114.92" r="2.8" fill="#ff0000" stroke="#ff0000" stroke-width="1.4"/>
<circle cx="504.35" cy="113.75" r="2.8" fill="#ff0000" stroke="#ff0000" stroke-width="1.4"/>
<circle cx="504.35" cy="112.56" r="2.8" fill="#ff0000" stroke="#ff0000" stroke-width="1.4"/>
<circle cx="504.35" cy="111.35" r="2.8" fill="#ff0000" stroke="#ff0000" stroke-width="1.4"/>
<circle cx="504.35" cy="110.13" r="2.8" fill="#ff0000" stroke="#ff0000" stroke-width="1.4"/>
<circle cx="504.35" cy="108.88" r="2.8" fill="#ff0000" stroke="#ff0000" stroke-width="1.4"/>
<circle cx="504.35" cy="107.61" r="2.8" fill="#ff0000" stroke="#ff0000" stroke-width="1.4"/>
<circle cx="504.35" cy="106.31" r="2.8" fill="#ff0000" stroke="#ff0000" stroke-width="1.4"/>
<circle cx="504.35" cy="104.99" r="2.8" fill="#ff0000" stroke="#ff0000" stroke-width="1.4"/>
<circle cx="504.35" cy="103.64" r="2.8" fill="#ff0000" stroke="#ff0000" stroke-width="1.4"/>
<circle cx="504.35" cy="102.25" r="2.8" fill="#ff0000" stroke="#ff0000" stroke-width="1.4"/>
<circle cx="504.35" cy="100.82" r="2.8" fill="#ff0000" stroke="#ff0000" stroke-width="1.4"/>
<circle cx="504.35" cy="99.36" r="2.8" fill="#ff0000" stroke="#ff0000" stroke-width="1.4"/>
<circle cx="504.35" cy="97.85" r="2.8" fill="#ff0000" stroke="#ff0000" stroke-width="1.4"/>
<circle cx="504.35" cy="96.29" r="2.8" fill="#fff" stroke="#ff0000" stroke-width="1.4"/>
<circle cx="504.35" cy="94.68" r="2.8" fill="#fff" stroke="#ff0000" stroke-width="1.4"/>
<circle cx="504.35" cy="93" r="2.8" fill="#fff" stroke="#ff0000" stroke-width="1.4"/>
<circle cx="504.35" cy="91.25" r="2.8" fill="#fff" stroke="#ff0000" stroke-width="1.4"/>
<circle cx="504.35" cy="89.43" r="2.8" fill="#fff" stroke="#ff0000" stroke-width="1.4"/>
<circle cx="504.35" cy="87.51" r="2.8" fill="#fff" stroke="#ff0000" stroke-width="1.4"/>
<circle cx="504.35" cy="85.49" r="2.8" fill="#fff" stroke="#ff0000" stroke-width="1.4"/>
<circle cx="504.35" cy="83.34" r="2.8" fill="#fff" stroke="#ff0000" stroke-width="1.4"/>
<circle cx="504.35" cy="81.05" r="2.8" fill="#fff" stroke="#ff0000" stroke-width="1.4"/>
<circle cx="504.35" cy="78.59" r="2.8" fill="#fff" stroke="#ff0000" stroke-width="1.4"/>
<circle cx="504.35" cy="75.91" r="2.8" fill="#fff" stroke="#ff0000" stroke-width="1.4"/>
<circle cx="504.35" cy="72.97" r="2.8" fill="#fff" stroke="#ff0000" stroke-width="1.4"/>
<circle cx="504.35" cy="69.69" r="2.8" fill="#fff" stroke="#ff0000" stroke-width="1.4"/>
<circle cx="504.35" cy="65.94" r="2.8" fill="#fff" stroke="#ff0000" stroke-width="1.4"/>
<circle cx="504.35" cy="61.53" r="2.8" fill="#fff" stroke="#ff0000" stroke-width="1.4"/>
<circle cx="516.9" cy="56.12" r="2.8" fill="#fff" stroke="#ff0000" stroke-width="1.4"/>
<circle cx="516.9" cy="48.92" r="2.8" fill="#fff" stroke="#ff0000" stroke-width="1.4"/>
<circle cx="516.9" cy="37.58" r="2.8" fill="#fff" stroke="#ff0000" stroke-width="1.4"/>
<path d="M597.2,231.18 L597.2,219.84 L597.2,212.64 L597.2,207.23 L597.2,202.82 L597.2,199.07 L597.2,195.79 L597.2,192.85 L597.2,190.17 L597.2,187.71 L597.2,185.42 L609.78,183.27 L609.78,181.25 L609.78,179.33 L609.78,177.51 L609.78,175.76 L609.78,174.08 L609.78,172.47 L609.78,170.91 L609.78,169.4 L609.78,167.94 L609.78,166.51 L609.78,165.12 L609.78,163.77 L609.78,162.45 L622.35,161.15 L622.35,159.88 L622.35,158.63 L622.35,157.41 L622.35,156.2 L622.35,155.01 L622.35,153.84 L622.35,152.68 L622.35,151.54 L622.35,150.41 L622.35,149.3 L622.35,148.19 L622.35,147.09 L622.35,146 L622.35,144.92 L622.35,143.85 L634.93,142.78 L634.93,141.72 L634.93,140.66 L634.93,139.61 L634.93,138.56 L634.93,137.51 L634.93,136.47 L634.93,135.42 L634.93,134.38 L634.93,133.34 L634.93,132.29 L634.93,131.25 L634.93,130.2 L634.93,129.15 L634.93,128.1 L634.93,127.04 L634.93,125.98 L634.93,124.91 L634.93,123.84 L634.93,122.76 L634.93,121.67 L634.93,120.57 L634.93,119.46 L634.93,118.35 L634.93,117.22 L634.93,116.08 L634.93,114.92 L634.93,113.75 L634.93,112.56 L634.93,111.35 L634.93,110.13 L634.93,108.88 L634.93,107.61 L634.93,106.31 L634.93,104.99 L634.93,103.64 L634.93,102.25 L634.93,100.82 L634.93,99.36 L647.5,97.85 L647.5,96.29 L647.5,94.68 L647.5,93 L647.5,91.25 L647.5,89.43 L647.5,87.51 L647.5,85.49 L647.5,83.34 L647.5,81.05 L647.5,78.59 L647.5,75.91 L647.5,72.97 L647.5,69.69 L647.5,65.94 L647.5,61.53 L660.08,56.12 L660.08,48.92 L660.08,37.58" fill="none" stroke="#000000" stroke-width="1"/>
<rect x="594.7" y="228.68" width="5" height="5" fill="#fff" stroke="#000000" stroke-width="1.3"/>
<rect x="594.7" y="217.34" width="5" height="5" fill="#fff" stroke="#000000" stroke-width="1.3"/>
<rect x="594.7" y="210.14" width="5" height="5" fill="#fff" stroke="#000000" stroke-width="1.3"/>
<rect x="594.7" y="204.73" width="5" height="5" fill="#fff" stroke="#000000" stroke-width="1.3"/>
<rect x="594.7" y="200.32" width="5" height="5" fill="#fff" stroke="#000000" stroke-width="1.3"/>
<rect x="594.7" y="196.57" width="5" height="5" fill="#fff" stroke="#000000" stroke-width="1.3"/>
<rect x="594.7" y="193.29" width="5" height="5" fill="#fff" stroke="#000000" stroke-width="1.3"/>
<rect x="594.7" y="190.35" width="5" height="5" fill="#fff" stroke="#000000" stroke-width="1.3"/>
<rect x="594.7" y="187.67" width="5" height="5" fill="#fff" stroke="#000000" stroke-width="1.3"/>
<rect x="594.7" y="185.21" width="5" height="5" fill="#fff" stroke="#000000" stroke-width="1.3"/>
<rect x="594.7" y="182.92" width="5" height="5" fill="#fff" stroke="#000000" stroke-width="1.3"/>
<rect x="607.28" y="180.77" width="5" height="5" fill="#fff" stroke="#000000" stroke-width="1.3"/>
<rect x="607.28" y="178.75" width="5" height="5" fill="#fff" stroke="#000000" stroke-width="1.3"/>
<rect x="607.28" y="176.83" width="5" height="5" fill="#fff" stroke="#000000" stroke-width="1.3"/>
<rect x="607.28" y="175.01" width="5" height="5" fill="#fff" stroke="#000000" stroke-width="1.3"/>
<rect x="607.28" y="173.26" width="5" height="5" fill="#fff" stroke="#000000" stroke-width="1.3"/>
<rect x="607.28" y="171.58" width="5" height="5" fill="#fff" stroke="#000000" stroke-width="1.3"/>
<rect x="607.28" y="169.97" width="5" height="5" fill="#000000" stroke="#000000" stroke-width="1.3"/>
<rect x="607.28" y="168.41" width="5" height="5" fill="#000000" stroke="#000000" stroke-width="1.3"/>
<rect x="607.28" y="166.9" width="5" height="5" fill="#000000" stroke="#000000" stroke-width="1.3"/>
<rect x="607.28" y="165.44" width="5" height="5" fill="#000000" stroke="#000000" stroke-width="1.3"/>
<rect x="607.28" y="164.01" width="5" height="5" fill="#000000" stroke="#000000" stroke-width="1.3"/>
<rect x="607.28" y="162.62" width="5" height="5" fill="#000000" stroke="#000000" stroke-width="1.3"/>
<rect x="607.28" y="161.27" width="5" height="5" fill="#000000" stroke="#000000" stroke-width="1.3"/>
<rect x="607.28" y="159.95" width="5" height="5" fill="#fff" stroke="#000000" stroke-width="1.3"/>
<rect x="619.85" y="158.65" width="5" height="5" fill="#000000" stroke="#000000" stroke-width="1.3"/>
<rect x="619.85" y="157.38" width="5" height="5" fill="#000000" stroke="#000000" stroke-width="1.3"/>
<rect x="619.85" y="156.13" width="5" height="5" fill="#000000" stroke="#000000" stroke-width="1.3"/>
<rect x="619.85" y="154.91" width="5" height="5" fill="#000000" stroke="#000000" stroke-width="1.3"/>
<rect x="619.85" y="153.7" width="5" height="5" fill="#000000" stroke="#000000" stroke-width="1.3"/>
<rect x="619.85" y="152.51" width="5" height="5" fill="#000000" stroke="#000000" stroke-width="1.3"/>
<rect x="619.85" y="151.34" width="5" height="5" fill="#000000" stroke="#000000" stroke-width="1.3"/>
<rect x="619.85" y="150.18" width="5" height="5" fill="#000000" stroke="#000000" stroke-width="1.3"/>
<rect x="619.85" y="149.04" width="5" height="5" fill="#000000" stroke="#000000" stroke-width="1.3"/>
<rect x="619.85" y="147.91" width="5" height="5" fill="#000000" stroke="#000000" stroke-width="1.3"/>
<rect x="619.85" y="146.8" width="5" height="5" fill="#000000" stroke="#000000" stroke-width="1.3"/>
<rect x="619.85" y="145.69" width="5" height="5" fill="#000000" stroke="#000000" stroke-width="1.3"/>
<rect x="619.85" y="144.59" width="5" height="5" fill="#000000" stroke="#000000" stroke-width="1.3"/>
<rect x="619.85" y="143.5" width="5" height="5" fill="#000000" stroke="#000000" stroke-width="1.3"/>
<rect x="619.85" y="142.42" width="5" height="5" fill="#000000" stroke="#000000" stroke-width="1.3"/>
<rect x="619.85" y="141.35" width="5" height="5" fill="#fff" stroke="#000000" stroke-width="1.3"/>
<rect x="632.43" y="140.28" width="5" height="5" fill="#000000" stroke="#000000" stroke-width="1.3"/>
<rect x="632.43" y="139.22" width="5" height="5" fill="#000000" stroke="#000000" stroke-width="1.3"/>
<rect x="632.43" y="138.16" width="5" height="5" fill="#000000" stroke="#000000" stroke-width="1.3"/>
<rect x="632.43" y="137.11" width="5" height="5" fill="#000000" stroke="#000000" stroke-width="1.3"/>
<rect x="632.43" y="136.06" width="5" height="5" fill="#000000" stroke="#000000" stroke-width="1.3"/>
<rect x="632.43" y="135.01" width="5" height="5" fill="#000000" stroke="#000000" stroke-width="1.3"/>
<rect x="632.43" y="133.97" width="5" height="5" fill="#000000" stroke="#000000" stroke-width="1.3"/>
<rect x="632.43" y="132.92" width="5" height="5" fill="#000000" stroke="#000000" stroke-width="1.3"/>
<rect x="632.43" y="131.88" width="5" height="5" fill="#000000" stroke="#000000" stroke-width="1.3"/>
<rect x="632.43" y="130.84" width="5" height="5" fill="#000000" stroke="#000000" stroke-width="1.3"/>
<rect x="632.43" y="129.79" width="5" height="5" fill="#000000" stroke="#000000" stroke-width="1.3"/>
<rect x="632.43" y="128.75" width="5" height="5" fill="#000000" stroke="#000000" stroke-width="1.3"/>
<rect x="632.43" y="127.7" width="5" height="5" fill="#000000" stroke="#000000" stroke-width="1.3"/>
<rect x="632.43" y="126.65" width="5" height="5" fill="#000000" stroke="#000000" stroke-width="1.3"/>
<rect x="632.43" y="125.6" width="5" height="5" fill="#000000" stroke="#000000" stroke-width="1.3"/>
<rect x="632.43" y="124.54" width="5" height="5" fill="#000000" stroke="#000000" stroke-width="1.3"/>
<rect x="632.43" y="123.48" width="5" height="5" fill="#000000" stroke="#000000" stroke-width="1.3"/>
<rect x="632.43" y="122.41" width="5" height="5" fill="#000000" stroke="#000000" stroke-width="1.3"/>
<rect x="632.43" y="121.34" width="5" height="5" fill="#000000" stroke="#000000" stroke-width="1.3"/>
<rect x="632.43" y="120.26" width="5" height="5" fill="#000000" stroke="#000000" stroke-width="1.3"/>
<rect x="632.43" y="119.17" width="5" height="5" fill="#000000" stroke="#000000" stroke-width="1.3"/>
<rect x="632.43" y="118.07" width="5" height="5" fill="#000000" stroke="#000000" stroke-width="1.3"/>
<rect x="632.43" y="116.96" width="5" height="5" fill="#000000" stroke="#000000" stroke-width="1.3"/>
<rect x="632.43" y="115.85" width="5" height="5" fill="#000000" stroke="#000000" stroke-width="1.3"/>
<rect x="632.43" y="114.72" width="5" height="5" fill="#000000" stroke="#000000" stroke-width="1.3"/>
<rect x="632.43" y="113.58" width="5" height="5" fill="#000000" stroke="#000000" stroke-width="1.3"/>
<rect x="632.43" y="112.42" width="5" height="5" fill="#000000" stroke="#000000" stroke-width="1.3"/>
<rect x="632.43" y="111.25" width="5" height="5" fill="#000000" stroke="#000000" stroke-width="1.3"/>
<rect x="632.43" y="110.06" width="5" height="5" fill="#000000" stroke="#000000" stroke-width="1.3"/>
<rect x="632.43" y="108.85" width="5" height="5" fill="#000000" stroke="#000000" stroke-width="1.3"/>
<rect x="632.43" y="107.63" width="5" height="5" fill="#000000" stroke="#000000" stroke-width="1.3"/>
<rect x="632.43" y="106.38" width="5" height="5" fill="#000000" stroke="#000000" stroke-width="1.3"/>
<rect x="632.43" y="105.11" width="5" height="5" fill="#000000" stroke="#000000" stroke-width="1.3"/>
<rect x="632.43" y="103.81" width="5" height="5" fill="#000000" stroke="#000000" stroke-width="1.3"/>
<rect x="632.43" y="102.49" width="5" height="5" fill="#000000" stroke="#000000" stroke-width="1.3"/>
<rect x="632.43" y="101.14" width="5" height="5" fill="#000000" stroke="#000000" stroke-width="1.3"/>
<rect x="632.43" y="99.75" width="5" height="5" fill="#000000" stroke="#000000" stroke-width="1.3"/>
<rect x="632.43" y="98.32" width="5" height="5" fill="#000000" stroke="#000000" stroke-width="1.3"/>
<rect x="632.43" y="96.86" width="5" height="5" fill="#fff" stroke="#000000" stroke-width="1.3"/>
<rect x="645" y="95.35" width="5" height="5" fill="#000000" stroke="#000000" stroke-width="1.3"/>
<rect x="645" y="93.79" width="5" height="5" fill="#fff" stroke="#000000" stroke-width="1.3"/>
<rect x="645" y="92.18" width="5" height="5" fill="#fff" stroke="#000000" stroke-width="1.3"/>
<rect x="645" y="90.5" width="5" height="5" fill="#fff" stroke="#000000" stroke-width="1.3"/>
<rect x="645" y="88.75" width="5" height="5" fill="#fff" stroke="#000000" stroke-width="1.3"/>
<rect x="645" y="86.93" width="5" height="5" fill="#fff" stroke="#000000" stroke-width="1.3"/>
<rect x="645" y="85.01" width="5" height="5" fill="#fff" stroke="#000000" stroke-width="1.3"/>
<rect x="645" y="82.99" width="5" height="5" fill="#fff" stroke="#000000" stroke-width="1.3"/>
<rect x="645" y="80.84" width="5" height="5" fill="#fff" stroke="#000000" stroke-width="1.3"/>
<rect x="645" y="78.55" width="5" height="5" fill="#fff" stroke="#000000" stroke-width="1.3"/>
<rect x="645" y="76.09" width="5" height="5" fill="#fff" stroke="#000000" stroke-width="1.3"/>
<rect x="645" y="73.41" width="5" height="5" fill="#fff" stroke="#000000" stroke-width="1.3"/>
<rect x="645" y="70.47" width="5" height="5" fill="#fff" stroke="#000000" stroke-width="1.3"/>
<rect x="645" y="67.19" width="5" height="5" fill="#fff" stroke="#000000" stroke-width="1.3"/>
<rect x="645" y="63.44" width="5" height="5" fill="#fff" stroke="#000000" stroke-width="1.3"/>
<rect x="645" y="59.03" width="5" height="5" fill="#fff" stroke="#000000" stroke-width="1.3"/>
<rect x="657.58" y="53.62" width="5" height="5" fill="#fff" stroke="#000000" stroke-width="1.3"/>
<rect x="657.58" y="46.42" width="5" height="5" fill="#fff" stroke="#000000" stroke-width="1.3"/>
<rect x="657.58" y="35.08" width="5" height="5" fill="#fff" stroke="#000000" stroke-width="1.3"/>
<g stroke="#000" stroke-width="1.5" fill="none">
<path d="M415.75,27.4 H555 M560,27.4 H698.55"/>
<path d="M415.75,235.5 H555 M560,235.5 H698.55"/>
<path d="M416.5,27.4 V235.5 M697.8,27.4 V235.5"/>
<path d="M552.1,31.8 L557.9,23" stroke-width="1.6"/>
<path d="M557.1,31.8 L562.9,23" stroke-width="1.6"/>
<path d="M552.1,239.9 L557.9,231.1" stroke-width="1.6"/>
<path d="M557.1,239.9 L562.9,231.1" stroke-width="1.6"/>
<path d="M411.5,231.18 H416.5 M693.8,231.18 H697.8"/>
<path d="M411.5,187.71 H416.5 M693.8,187.71 H697.8"/>
<path d="M411.5,144.92 H416.5 M693.8,144.92 H697.8"/>
<path d="M411.5,112.56 H416.5 M693.8,112.56 H697.8"/>
<path d="M411.5,65.94 H416.5 M693.8,65.94 H697.8"/>
<path d="M411.5,27.2 H416.5 M693.8,27.2 H697.8"/>
<path d="M416.5,235.5 V240 M416.5,27.4 V30.4"/>
<path d="M466.7,235.5 V240 M466.7,27.4 V30.4"/>
<path d="M516.9,235.5 V240 M516.9,27.4 V30.4"/>
<path d="M597.2,235.5 V240 M597.2,27.4 V30.4"/>
<path d="M647.5,235.5 V240 M647.5,27.4 V30.4"/>
<path d="M697.8,235.5 V240 M697.8,27.4 V30.4"/>
<path d="M441.6,235.5 V238.5 M441.6,27.4 V29.9"/>
<path d="M491.8,235.5 V238.5 M491.8,27.4 V29.9"/>
<path d="M622.35,235.5 V238.5 M622.35,27.4 V29.9"/>
<path d="M672.65,235.5 V238.5 M672.65,27.4 V29.9"/>
<path d="M542,235.5 V238.5 M542,27.4 V29.9"/>
<path d="M572.05,235.5 V238.5 M572.05,27.4 V29.9"/>
</g>
<g font-family='"Liberation Sans", sans-serif' font-size="11" fill="#1a1a1a">
<text x="409" y="235.18" text-anchor="end">1</text>
<text x="409" y="191.71" text-anchor="end">10</text>
<text x="409" y="148.92" text-anchor="end">40</text>
<text x="409" y="116.56" text-anchor="end">70</text>
<text x="409" y="69.94" text-anchor="end">95</text>
<text x="409" y="31.2" text-anchor="end">99.5</text>
<text x="416.5" y="251.3" text-anchor="middle">-1.2</text>
<text x="466.7" y="251.3" text-anchor="middle">-0.8</text>
<text x="516.9" y="251.3" text-anchor="middle">-0.4</text>
<text x="597.2" y="251.3" text-anchor="middle">0.4</text>
<text x="647.5" y="251.3" text-anchor="middle">0.8</text>
<text x="697.8" y="251.3" text-anchor="middle">1.2</text>
</g>
<g font-family='"Liberation Sans", sans-serif' font-size="14" fill="#1a1a1a">
<text x="555.25" y="271.7" text-anchor="middle">Voltage (V)</text>
<text transform="translate(379.6,140.1) rotate(-90)" text-anchor="middle">Cumulative Probability (%)</text>
</g>
<text x="367.3" y="19.8" font-family='"Liberation Sans", sans-serif' font-size="25" fill="#111">b</text>
<path d="M501.7,166.5 H531.3" stroke="#222" stroke-width="1.2"/>
<path d="M501.7,182.5 H531.3" stroke="#e33" stroke-width="1.2"/>
<rect x="514.1" y="164.1" width="4.8" height="4.8" fill="#fff" stroke="#000" stroke-width="1.5"/>
<circle cx="516.5" cy="182.5" r="2.8" fill="#fff" stroke="#f00" stroke-width="1.5"/>
<g font-family='"Liberation Sans", sans-serif' font-size="13" fill="#1a1a1a">
<text x="535.3" y="170.7">SET</text>
<text x="535.3" y="186.7">RESET</text>
<text x="532.5" y="62">Ti/ZnO/CeO<tspan font-size="8.5" dy="5">2</tspan><tspan dy="-5">/Pt</tspan></text>
</g>
<rect x="86.4" y="344.47" width="35.9" height="165.03" fill="url(#hcB)" stroke="#3030c0" stroke-width="1"/>
<rect x="122.3" y="492.2" width="56.2" height="17.3" fill="url(#hcR)" stroke="#6a2020" stroke-width="1"/>
<rect x="227.3" y="327.09" width="35.9" height="182.41" fill="url(#hcB)" stroke="#3030c0" stroke-width="1"/>
<rect x="263.2" y="474.82" width="56.3" height="34.68" fill="url(#hcR)" stroke="#6a2020" stroke-width="1"/>
<g stroke="#000" stroke-width="1.5" fill="none">
<rect x="51.9" y="301.1" width="281.4" height="208.4"/>
<path d="M47.4,301.02 H51.9 M329.3,301.02 H333.3"/>
<path d="M49.4,318.4 H51.9 M330.3,318.4 H333.3"/>
<path d="M47.4,335.78 H51.9 M329.3,335.78 H333.3"/>
<path d="M49.4,353.16 H51.9 M330.3,353.16 H333.3"/>
<path d="M47.4,370.54 H51.9 M329.3,370.54 H333.3"/>
<path d="M49.4,387.92 H51.9 M330.3,387.92 H333.3"/>
<path d="M47.4,405.3 H51.9 M329.3,405.3 H333.3"/>
<path d="M49.4,422.68 H51.9 M330.3,422.68 H333.3"/>
<path d="M47.4,440.06 H51.9 M329.3,440.06 H333.3"/>
<path d="M49.4,457.44 H51.9 M330.3,457.44 H333.3"/>
<path d="M47.4,474.82 H51.9 M329.3,474.82 H333.3"/>
<path d="M49.4,492.2 H51.9 M330.3,492.2 H333.3"/>
<path d="M47.4,509.58 H51.9 M329.3,509.58 H333.3"/>
<path d="M192.4,509.5 V512.5 M192.4,301.1 V304.1"/>
</g>
<g font-family='"Liberation Sans", sans-serif' font-size="11" fill="#1a1a1a">
<text x="44.6" y="305.02" text-anchor="end">1.2</text>
<text x="44.6" y="339.78" text-anchor="end">0.8</text>
<text x="44.6" y="374.54" text-anchor="end">0.4</text>
<text x="44.6" y="409.3" text-anchor="end">0.0</text>
<text x="44.6" y="444.06" text-anchor="end">-0.4</text>
<text x="44.6" y="478.82" text-anchor="end">-0.8</text>
<text x="44.6" y="513.58" text-anchor="end">-1.2</text>
</g>
<g font-family='"Liberation Sans", sans-serif' font-size="14" fill="#1a1a1a">
<text transform="translate(16.8,414.7) rotate(-90)" text-anchor="middle">Voltage (V)</text>
</g>
<text x="3.4" y="300.3" font-family='"Liberation Sans", sans-serif' font-size="25" fill="#111">c</text>
<rect x="143" y="401" width="29" height="11.3" fill="url(#hcB)" stroke="#3030c0" stroke-width="1"/>
<rect x="143" y="417.3" width="29" height="11.1" fill="url(#hcR)" stroke="#6a2020" stroke-width="1"/>
<g font-family='"Liberation Sans", sans-serif' font-size="13" fill="#1a1a1a">
<text x="175.5" y="411.4">SET</text>
<text x="175.5" y="427.6">RESET</text>
<text x="86" y="525.3" font-size="14">Ti/CeO<tspan font-size="9" dy="5">2</tspan><tspan dy="-5">/ZnO/Pt</tspan></text>
<text x="229" y="524.9" font-size="14">Ti/ZnO/CeO<tspan font-size="9" dy="5">2</tspan><tspan dy="-5">/Pt</tspan></text>
</g>
<rect x="461.1" y="477.47" width="89.9" height="31.13" fill="url(#hdB)" stroke="#3030d0" stroke-width="1"/>
<rect x="569.5" y="352.55" width="103.3" height="156.05" fill="url(#hdR)" stroke="#e03030" stroke-width="1"/>
<g stroke="#000" stroke-width="1.5" fill="none">
<rect x="419.1" y="300.5" width="281.5" height="208.1"/>
<path d="M414.1,508.7 H419.1"/>
<path d="M416.1,482.68 H419.1"/>
<path d="M414.1,456.65 H419.1"/>
<path d="M416.1,430.62 H419.1"/>
<path d="M414.1,404.6 H419.1"/>
<path d="M416.1,378.57 H419.1"/>
<path d="M414.1,352.55 H419.1"/>
<path d="M416.1,326.52 H419.1"/>
<path d="M414.1,300.5 H419.1"/>
<path d="M559.5,508.6 V511.6"/>
</g>
<g font-family='"Liberation Sans", sans-serif' font-size="11" fill="#1a1a1a">
<text x="411.6" y="512.7" text-anchor="end">0</text>
<text x="411.6" y="460.65" text-anchor="end">1</text>
<text x="411.6" y="408.6" text-anchor="end">2</text>
<text x="411.6" y="356.55" text-anchor="end">3</text>
<text x="411.6" y="304.5" text-anchor="end">4</text>
</g>
<g font-family='"Liberation Sans", sans-serif' font-size="14" fill="#1a1a1a">
<text transform="translate(392.7,406.7) rotate(-90)" text-anchor="middle">Forming Voltage (V)</text>
</g>
<text x="367.3" y="300.5" font-family='"Liberation Sans", sans-serif' font-size="25" fill="#111">d</text>
<g font-family='"Liberation Sans", sans-serif' font-size="13" fill="#1a1a1a">
<text x="455.3" y="525.8" font-size="14">Ti/CeO<tspan font-size="9" dy="5">2</tspan><tspan dy="-5">/ZnO/Pt</tspan></text>
<text x="578.4" y="525.9" font-size="14">Ti/ZnO/CeO<tspan font-size="9" dy="5">2</tspan><tspan dy="-5">/Pt</tspan></text>
</g>
</svg></body></html>
